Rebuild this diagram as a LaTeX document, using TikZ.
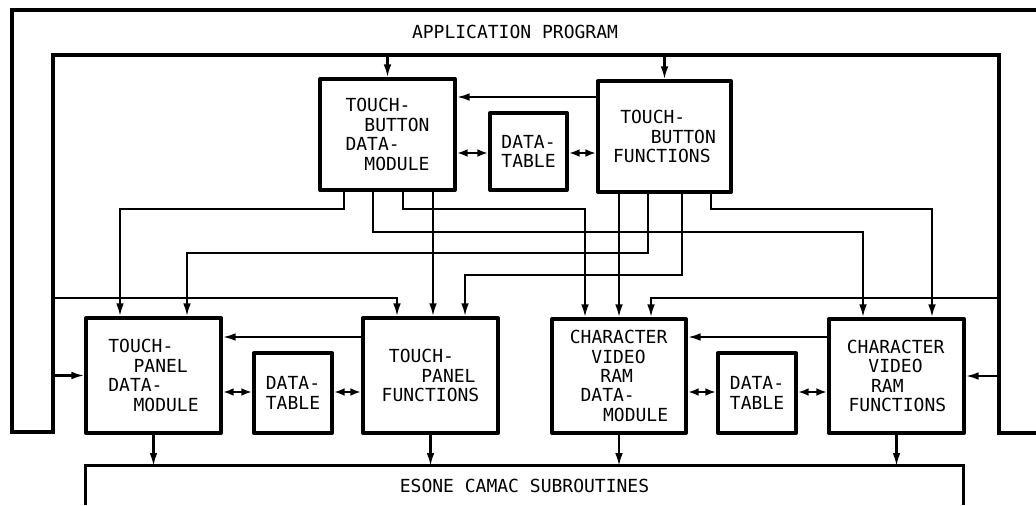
\documentclass[tikz,border=0pt]{standalone}
\usepackage{fontspec}
\setmonofont{DejaVu Sans Mono}
\usetikzlibrary{arrows.meta}
\tikzset{
  band/.style={line width=2.2pt, line join=miter},
  module/.style={draw, line width=2.8pt, line join=round, inner sep=0pt, align=left, font=\ttfamily\fontsize{12.8}{13.8}\selectfont},
  caption/.style={font=\ttfamily\fontsize{12.8}{13.8}\selectfont},
  wire/.style={line width=1.45pt},
  flow/.style={wire, -{Latex[length=9pt,width=5.5pt]}},
  twoway/.style={wire, {Latex[length=7.5pt,width=5.5pt]}-{Latex[length=7.5pt,width=5.5pt]}},
}

\begin{document}
\begin{tikzpicture}[x=0.025cm, y=-0.025cm]
\useasboundingbox (0,0) rectangle (1036,505);
\coordinate (frL) at (53,55);
\coordinate (frR) at (999,55);
\draw[band] (1036,10) -- (12,10) -- (12,432) -- (53,432) -- (frL) -- (frR) -- (999,433) -- (1036,433);
\node[caption] (app) at (515,32) {APPLICATION PROGRAM};
\node[module, minimum width=3.375cm, minimum height=2.775cm] (tbdm) at (387.5,134.5) {TOUCH-\\\hspace*{1.05em}BUTTON\\DATA-\\\hspace*{1.05em}MODULE};
\node[module, minimum width=1.925cm, minimum height=1.925cm] (dt1) at (528.5,151.5) {DATA-\\TABLE};
\node[module, minimum width=3.325cm, minimum height=2.775cm] (tbf) at (664.5,136.5) {\hspace*{0.4em}TOUCH-\\\hspace*{2.1em}BUTTON\\FUNCTIONS};
\node[module, minimum width=3.375cm, minimum height=2.875cm] (tpdm) at (153.5,375.5) {TOUCH-\\\hspace*{1.4em}PANEL\\DATA-\\\hspace*{1.4em}MODULE};
\node[module, minimum width=1.95cm, minimum height=2cm] (dt2) at (293,393) {DATA-\\TABLE};
\node[module, minimum width=3.375cm, minimum height=2.875cm] (tpf) at (430.5,375.5) {\hspace*{0.4em}TOUCH-\\\hspace*{2.2em}PANEL\\FUNCTIONS};
\node[module, minimum width=3.35cm, minimum height=2.85cm] (cvdm) at (619,376) {CHARACTER\\\hspace*{1.2em}VIDEO\\\hspace*{1.7em}RAM\\\hspace*{0.6em}DATA-\\\hspace*{1.85em}MODULE};
\node[module, minimum width=1.95cm, minimum height=2cm] (dt3) at (757,393) {DATA-\\TABLE};
\node[module, minimum width=3.375cm, minimum height=2.85cm] (cvf) at (896.5,376) {CHARACTER\\\hspace*{1.2em}VIDEO\\\hspace*{1.35em}RAM\\\hspace*{0.1em}FUNCTIONS};
\node[caption, minimum width=21.925cm, minimum height=0.975cm] (esone) at (524.5,485.5) {ESONE CAMAC SUBROUTINES};
\draw[band] (esone.south west) |- (esone.north east) -- (esone.south east);
\draw[flow] (frL -| tbdm.north) -- (tbdm.north);
\draw[flow] (frL -| tbf.north) -- (tbf.north);
\draw[flow] (tbf.west |- 0,97) -- (tbdm.east |- 0,97);
\draw[twoway] (tbdm.east |- 0,153) -- (dt1.west |- 0,153);
\draw[twoway] (dt1.east |- 0,153) -- (tbf.west |- 0,153);
\draw[flow] (tpf.west |- 0,337) -- (tpdm.east |- 0,337);
\draw[twoway] (tpdm.east |- 0,392) -- (dt2.west |- 0,392);
\draw[twoway] (dt2.east |- 0,392) -- (tpf.west |- 0,392);
\draw[flow] (cvf.west |- 0,337) -- (cvdm.east |- 0,337);
\draw[twoway] (cvdm.east |- 0,392) -- (dt3.west |- 0,392);
\draw[twoway] (dt3.east |- 0,392) -- (cvf.west |- 0,392);
\draw[flow] (tpdm.south) -- (esone.north -| tpdm.south);
\draw[flow] (tpf.south) -- (esone.north -| tpf.south);
\draw[flow] (cvdm.south) -- (esone.north -| cvdm.south);
\draw[flow] (cvf.south) -- (esone.north -| cvf.south);
\draw[flow] (frL |- tpdm.west) -- (tpdm.west);
\draw[flow] (frR |- cvf.east) -- (cvf.east);
\draw[flow] (frL |- 0,298) -| (tpf.north -| 397,0);
\draw[flow] (frR |- 0,298) -| (cvdm.north -| 651,0);
\draw[flow] (tbdm.south -| 344,0) -- (344,209) -| (tpdm.north -| 120,0);
\draw[flow] (tbdm.south -| 373,0) -- (373,232) -| (cvf.north -| 863,0);
\draw[flow] (tbdm.south -| 403,0) -- (403,209) -| (cvdm.north -| 585,0);
\draw[flow] (tbdm.south -| 433,0) -- (tpf.north -| 433,0);
\draw[flow] (tbf.south -| 619,0) -- (cvdm.north -| 619,0);
\draw[flow] (tbf.south -| 648,0) -- (648,253) -| (tpdm.north -| 187,0);
\draw[flow] (tbf.south -| 682,0) -- (682,275) -| (tpf.north -| 465,0);
\draw[flow] (tbf.south -| 711,0) -- (711,209) -| (cvf.north -| 932,0);
\end{tikzpicture}
\end{document}
